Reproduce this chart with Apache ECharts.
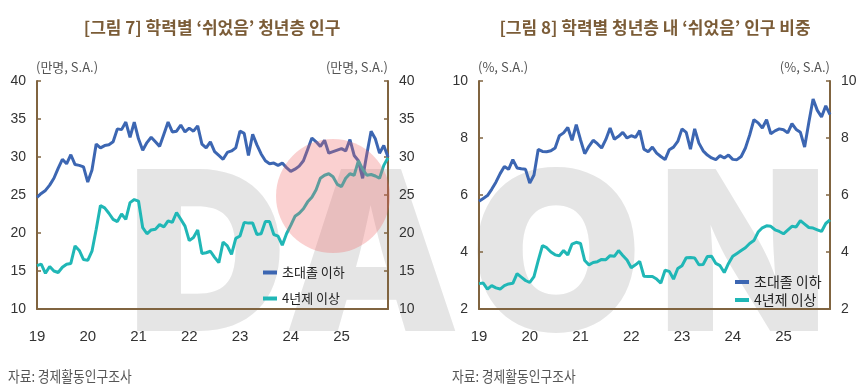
<!DOCTYPE html>
<html><head><meta charset="utf-8">
<script src="https://cdn.jsdelivr.net/npm/echarts@6/dist/echarts.min.js"></script>
<style>html,body{margin:0;padding:0;background:#fff}#c{width:861px;height:389px}</style>
</head><body><div id="c"></div>
<script>
// ---- data ----
const years = [2019, 2020, 2021, 2022, 2023, 2024, 2025];
const yearTickLabels = ['19', '20', '21', '22', '23', '24', '25'];
const categories = [];
years.forEach(y => { for (let m = 1; m <= 12; m++) categories.push(y + '-' + (m < 10 ? '0' + m : m)); });

// [그림 7] 학력별 '쉬었음' 청년층 인구 (만명, S.A.)
const lowEduCount = [
  24.7, 25.2, 25.6, 26.3, 27.2, 28.5, 29.7, 29.1, 30.3, 29.0, 28.9, 28.7,
  26.7, 28.3, 31.7, 31.2, 31.5, 31.6, 32.0, 33.7, 33.6, 34.6, 32.6, 34.6,
  32.4, 30.9, 31.9, 32.6, 32.0, 31.4, 33.0, 34.6, 33.3, 33.4, 34.2, 33.3,
  33.8, 33.4, 34.1, 31.7, 31.2, 32.0, 30.7, 30.2, 29.7, 30.6, 30.8, 31.2,
  33.4, 33.1, 30.2, 33.0, 31.6, 30.4, 29.5, 29.1, 29.2, 28.9, 29.2, 28.6,
  28.1, 28.4, 28.8, 29.5, 31.0, 32.5, 32.0, 31.4, 32.2, 30.5, 30.7, 30.9,
  31.1, 30.8, 32.3, 30.2, 29.5, 27.2, 30.4, 33.4, 32.4, 30.5, 31.5, 30.0
];
const univCount = [
  15.7, 15.9, 14.7, 15.6, 15.0, 14.8, 15.5, 15.9, 16.0, 18.3, 17.7, 16.5,
  16.4, 17.6, 20.5, 23.6, 23.3, 22.6, 21.8, 21.5, 22.5, 21.8, 24.0, 24.4,
  24.2, 20.7, 19.9, 20.4, 20.5, 21.1, 20.8, 21.6, 21.4, 22.7, 21.8, 20.9,
  19.0, 19.4, 20.4, 17.3, 17.4, 17.6, 16.8, 16.1, 18.8, 18.3, 17.2, 19.3,
  19.6, 21.4, 21.3, 21.3, 19.8, 19.9, 21.5, 21.5, 19.8, 19.6, 18.4, 19.9,
  21.0, 22.2, 22.6, 23.2, 24.1, 24.7, 25.7, 27.2, 27.6, 27.8, 27.4, 26.4,
  26.1, 27.2, 27.8, 27.6, 29.5, 28.4, 27.6, 27.7, 27.5, 27.2, 28.9, 29.9
];
// [그림 8] 학력별 청년층 내 '쉬었음' 인구 비중 (%, S.A.)
const lowEduShare = [
  5.78, 5.88, 5.98, 6.2, 6.45, 6.75, 7.0, 6.9, 7.24, 6.95, 6.92, 6.9,
  6.42, 6.7, 7.6, 7.53, 7.52, 7.55, 7.65, 8.08, 8.18, 8.37, 7.92, 8.47,
  7.94, 7.45, 7.71, 7.92, 7.8, 7.65, 7.95, 8.35, 7.96, 8.06, 8.2, 8.0,
  8.08, 8.02, 8.26, 7.61, 7.52, 7.68, 7.47, 7.35, 7.24, 7.59, 7.68, 7.88,
  8.32, 8.2, 7.61, 8.32, 7.82, 7.55, 7.4, 7.3, 7.24, 7.38, 7.3, 7.4,
  7.25, 7.24, 7.35, 7.65, 8.1, 8.64, 8.53, 8.35, 8.64, 8.15, 8.25, 8.32,
  8.29, 8.18, 8.5, 8.3, 8.2, 7.68, 8.55, 9.37, 8.97, 8.74, 9.13, 8.82
];
const univShare = [
  2.89, 2.91, 2.7, 2.82, 2.74, 2.7, 2.82, 2.88, 2.9, 3.24, 3.12, 3.0,
  2.93, 3.14, 3.7, 4.22, 4.15, 4.0, 3.9, 3.87, 4.05, 3.9, 4.28, 4.34,
  4.3, 3.7, 3.55, 3.63, 3.66, 3.74, 3.73, 3.87, 3.85, 4.05, 3.88, 3.72,
  3.45, 3.55, 3.67, 3.15, 3.14, 3.14, 3.05, 2.91, 3.36, 3.32, 3.05, 3.42,
  3.52, 3.8, 3.81, 3.79, 3.55, 3.56, 3.84, 3.85, 3.6, 3.52, 3.28, 3.6,
  3.85, 3.95, 4.05, 4.15, 4.3, 4.4, 4.7, 4.85, 4.92, 4.9, 4.78, 4.72,
  4.64, 4.77, 4.9, 4.88, 5.1, 4.98, 4.86, 4.84, 4.78, 4.72, 5.0, 5.13
];
const seriesNames = ['초대졸 이하', '4년제 이상'];

// ---- styles ----
const BLUE = '#3c66b2', TEAL = '#20b7b6', BROWN = '#806440';
const NUM_FONT = "'Liberation Sans', Arial, sans-serif";
const NARROW = "'Liberation Sans Narrow', 'Arial Narrow', 'Liberation Sans', sans-serif";
const KR = "'Noto Sans CJK KR', 'Noto Sans', sans-serif";

function xAxisCfg(gi) {
  return {
    type: 'category', gridIndex: gi, data: categories, boundaryGap: false,
    axisLine: { show: true, lineStyle: { color: BROWN, width: 2 } },
    axisTick: { show: false },
    splitLine: { show: false },
    axisLabel: {
      interval: (i) => i % 12 === 0,
      formatter: (v, i) => yearTickLabels[Math.floor(i / 12)],
      color: '#333', fontSize: 15, fontFamily: NARROW, margin: 20
    }
  };
}
function yAxisCfg(gi, pos, min, max, step) {
  return {
    type: 'value', gridIndex: gi, position: pos, min: min, max: max, interval: step,
    axisLine: { show: true, onZero: false, lineStyle: { color: BROWN, width: 2 } },
    axisTick: { show: true, inside: true, length: 4, lineStyle: { color: BROWN, width: 1.5 } },
    splitLine: { show: false },
    axisLabel: { color: '#333', fontSize: 14, fontFamily: NUM_FONT, margin: 11 }
  };
}
function line(name, data, color, xi, yi) {
  return { type: 'line', name: name, data: data, xAxisIndex: xi, yAxisIndex: yi,
    showSymbol: false, symbol: 'none', lineStyle: { color: color, width: 3 }, itemStyle: { color: color },
    z: 3, animation: false };
}
function txt(x, y, text, opts) {
  return Object.assign({ type: 'text', x: x, y: y, silent: true,
    style: Object.assign({ text: text, fill: '#555', fontSize: 13, fontFamily: KR,
      textAlign: 'left', textVerticalAlign: 'middle' }, opts.style || {}) }, opts.el || {});
}
function wm(x, ch) {
  return { type: 'text', x: x, y: 264, z: -1, silent: true,
    style: { text: ch, fill: '#e5e5e5', fontSize: 222, fontWeight: 900, fontFamily: "Inter, Lato, 'DejaVu Sans', sans-serif",
      textAlign: 'center', textVerticalAlign: 'middle' } };
}

const chart = echarts.init(document.getElementById('c'), null, { renderer: 'canvas' });
chart.setOption({
  animation: false,
  backgroundColor: '#fff',
  grid: [
    { left: 37, right: 473, top: 81, bottom: 80 },
    { left: 479, right: 31, top: 81, bottom: 80 }
  ],
  xAxis: [xAxisCfg(0), xAxisCfg(1)],
  yAxis: [
    yAxisCfg(0, 'left', 10, 40, 5), yAxisCfg(0, 'right', 10, 40, 5),
    yAxisCfg(1, 'left', 2, 10, 2), yAxisCfg(1, 'right', 2, 10, 2)
  ],
  legend: [
    { data: seriesNames, orient: 'vertical', left: 258, top: 261, itemWidth: 14, itemHeight: 4, icon: 'rect',
      itemGap: 13, selectedMode: false, textStyle: { fontSize: 13, color: '#222', fontFamily: KR } },
    { data: seriesNames, orient: 'vertical', left: 730, top: 270, itemWidth: 14, itemHeight: 4, icon: 'rect',
      itemGap: 4, selectedMode: false, textStyle: { fontSize: 14, color: '#222', fontFamily: KR } }
  ],
  series: [
    line(seriesNames[0], lowEduCount, BLUE, 0, 0),
    line(seriesNames[1], univCount, TEAL, 0, 0),
    line(seriesNames[0], lowEduShare, BLUE, 1, 2),
    line(seriesNames[1], univShare, TEAL, 1, 2)
  ],
  graphic: [
    wm(207, 'D'), wm(372, 'A'), wm(556, 'O'), wm(743, 'N'),
    txt(212, 28, '[그림 7] 학력별 ‘쉬었음’ 청년층 인구', { style: { fill: '#7b5c37', fontSize: 17, fontWeight: 'bold', textAlign: 'center' } }),
    txt(655, 28, '[그림 8] 학력별 청년층 내 ‘쉬었음’ 인구 비중', { style: { fill: '#7b5c37', fontSize: 17, fontWeight: 'bold', textAlign: 'center' } }),
    txt(36, 67, '(만명, S.A.)', { style: { fontSize: 13 } }),
    txt(388, 67, '(만명, S.A.)', { style: { fontSize: 13, textAlign: 'right' } }),
    txt(478, 67, '(%, S.A.)', { style: { fontSize: 13 } }),
    txt(830, 67, '(%, S.A.)', { style: { fontSize: 13, textAlign: 'right' } }),
    txt(8, 376, '자료: 경제활동인구조사', { style: { fontSize: 15 }, el: { scaleX: 0.85 } }),
    txt(452, 376, '자료: 경제활동인구조사', { style: { fontSize: 15 }, el: { scaleX: 0.85 } }),
    { type: 'circle', z: 100, silent: true, shape: { cx: 333, cy: 196, r: 57 },
      style: { fill: 'rgba(240,100,100,0.3)' } }
  ]
});
</script></body></html>
